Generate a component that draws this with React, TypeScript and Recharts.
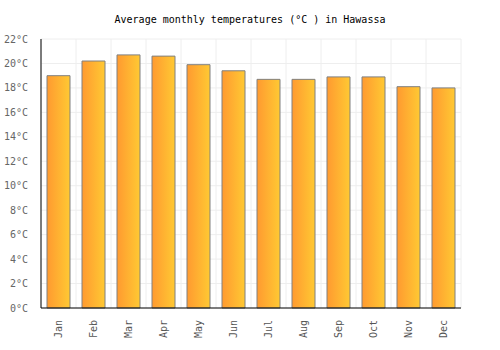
import React from "react";
import { BarChart, Bar, XAxis, YAxis, CartesianGrid } from "recharts";

const months = ["Jan", "Feb", "Mar", "Apr", "May", "Jun", "Jul", "Aug", "Sep", "Oct", "Nov", "Dec"];
const temps = [19.0, 20.2, 20.7, 20.6, 19.9, 19.4, 18.7, 18.7, 18.9, 18.9, 18.1, 18.0];
const yTicks = [0, 2, 4, 6, 8, 10, 12, 14, 16, 18, 20, 22];
const title = "Average monthly temperatures (°C ) in Hawassa";

const data = months.map((m, i) => ({ month: m, temp: temps[i] }));
const FONT = "'DejaVu Sans Mono', monospace";

const XTick = (props: any) => {
  const { x, y, payload } = props;
  return (
    <text
      x={x}
      y={y}
      transform={`rotate(-90 ${x} ${y})`}
      textAnchor="end"
      dominantBaseline="central"
      fontFamily={FONT}
      fontSize={10}
      fill="#555"
    >
      {payload.value}
    </text>
  );
};

export default function App() {
  return (
    <div style={{ position: "absolute", left: 0, top: 0, width: 500, height: 350, background: "#fff" }}>
      <BarChart
        width={500}
        height={350}
        data={data}
        margin={{ top: 39, right: 39, left: 0, bottom: 0 }}
        barCategoryGap={6}
      >
        <defs>
          <linearGradient id="barGrad" x1="0" y1="0" x2="1" y2="0">
            <stop offset="0%" stopColor="#FF9A30" />
            <stop offset="100%" stopColor="#FFC933" />
          </linearGradient>
        </defs>
        <text x={250} y={23} textAnchor="middle" fontFamily={FONT} fontSize={10} fill="#000">
          {title}
        </text>
        <CartesianGrid
          stroke="#eeeeee"
          verticalCoordinatesGenerator={({ offset }: any) =>
            Array.from({ length: months.length + 1 }, (_, i) => offset.left + (i * offset.width) / months.length)
          }
        />
        <XAxis
          dataKey="month"
          height={42}
          tick={<XTick />}
          tickLine={false}
          axisLine={{ stroke: "#000" }}
          tickMargin={6}
          interval={0}
        />
        <YAxis
          width={41}
          domain={[0, 22]}
          ticks={yTicks}
          tickFormatter={(v: number) => `${v}°C`}
          tickLine={false}
          axisLine={{ stroke: "#000" }}
          tickMargin={7}
          tick={{ fontFamily: FONT, fontSize: 10, fill: "#666" }}
          interval={0}
        />
        <Bar dataKey="temp" fill="url(#barGrad)" stroke="#808080" strokeWidth={1} isAnimationActive={false} />
      </BarChart>
    </div>
  );
}
